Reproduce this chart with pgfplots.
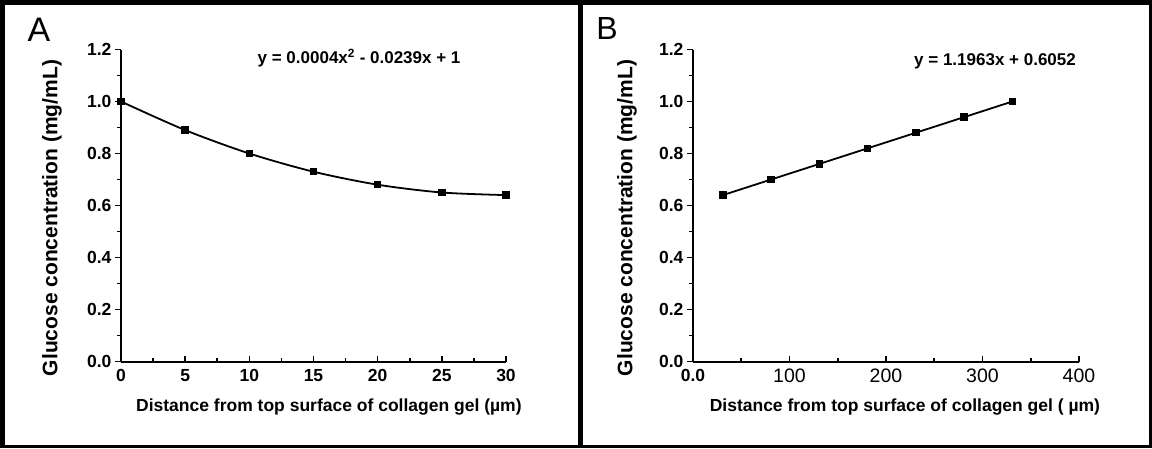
\documentclass[border=0pt]{standalone}
\usepackage{fontspec}
\setmainfont{Liberation Sans}
\usepackage{pgfplots}
\pgfplotsset{compat=1.18}
\pgfplotsset{panel/.style={
  scale only axis, anchor=south west, clip=false,
  axis x line*=bottom, axis y line*=left,
  ymin=0, ymax=1.2, ytick={0,0.2,0.4,0.6,0.8,1.0,1.2},
  minor y tick num=1, minor x tick num=1,
  tick align=inside, ytick align=outside,
  major tick length=6pt, minor tick length=4pt,
  axis line style={line width=2pt, black},
  every tick/.style={line width=1.6pt, black},
  /pgf/number format/assume math mode=true,
  tick label style={font=\fontsize{17.5}{19}\selectfont\bfseries},
  xticklabel style={yshift=-4pt},
  yticklabel style={/pgf/number format/fixed, /pgf/number format/fixed zerofill, /pgf/number format/precision=1},
  ylabel style={font=\fontsize{21}{23}\selectfont\bfseries, anchor=center},
  xlabel style={font=\fontsize{17.5}{20}\selectfont\bfseries, anchor=center},
}}
\begin{document}
\begin{tikzpicture}[x=1pt,y=1pt]
\useasboundingbox (0,0) rectangle (1152,448);
\fill[white] (0,0) rectangle (1152,448);
\draw[line width=5pt] (0,445.5) -- (1152,445.5);
\draw[line width=5pt] (2.5,0) -- (2.5,448);
\draw[line width=3pt] (0,1.5) -- (1152,1.5);
\draw[line width=3pt] (1150.5,0) -- (1150.5,448);
\draw[line width=5pt] (580.5,0) -- (580.5,448);
\node[font=\fontsize{34}{36}\selectfont] at (39,418) {A};
\node[font=\fontsize{32}{34}\selectfont] at (607,420) {B};

\begin{axis}[panel, at={(121pt,86.5pt)}, width=385pt, height=312pt,
  xmin=0, xmax=30, xtick={0,5,10,15,20,25,30},
  ylabel={Glucose concentration (mg/mL)},
  ylabel style={at={(axis description cs:-0.179,0.46)}},
  xlabel={Distance from top surface of collagen gel (µm)},
  xlabel style={at={(axis description cs:0.540,-0.145)}}]
\addplot[black, line width=1.8pt, smooth, mark=square*, mark size=2.8pt, mark options={solid}]
  coordinates {(0,1.00) (5,0.89) (10,0.80) (15,0.73) (20,0.68) (25,0.65) (30,0.64)};
\node[font=\fontsize{17}{19}\selectfont\bfseries] at (axis cs:18.55,1.167) {y = 0.0004x\textsuperscript{2} - 0.0239x + 1};
\end{axis}

\begin{axis}[panel, at={(693pt,86.5pt)}, width=386pt, height=312pt,
  xmin=0, xmax=400, xtick={0,100,200,300,400},
  xticklabels={\textbf{0.0}, \raisebox{-4pt}{\mdseries\fontsize{19.5}{20}\selectfont 100}, \raisebox{-4pt}{\mdseries\fontsize{19.5}{20}\selectfont 200}, \raisebox{-4pt}{\mdseries\fontsize{19.5}{20}\selectfont 300}, \raisebox{2pt}{\mdseries\fontsize{19.5}{20}\selectfont 400}},
  ylabel={Glucose concentration (mg/mL)},
  ylabel style={at={(axis description cs:-0.171,0.46)}},
  xlabel={Distance from top surface of collagen gel ( µm)},
  xlabel style={at={(axis description cs:0.549,-0.145)}}]
\addplot[black, line width=1.8pt, mark=square*, mark size=2.8pt, mark options={solid}]
  coordinates {(31,0.64) (81,0.70) (131,0.76) (181,0.82) (231,0.88) (281,0.94) (331,1.00)};
\node[font=\fontsize{17}{19}\selectfont\bfseries] at (axis cs:313,1.156) {y = 1.1963x + 0.6052};
\end{axis}
\end{tikzpicture}
\end{document}
